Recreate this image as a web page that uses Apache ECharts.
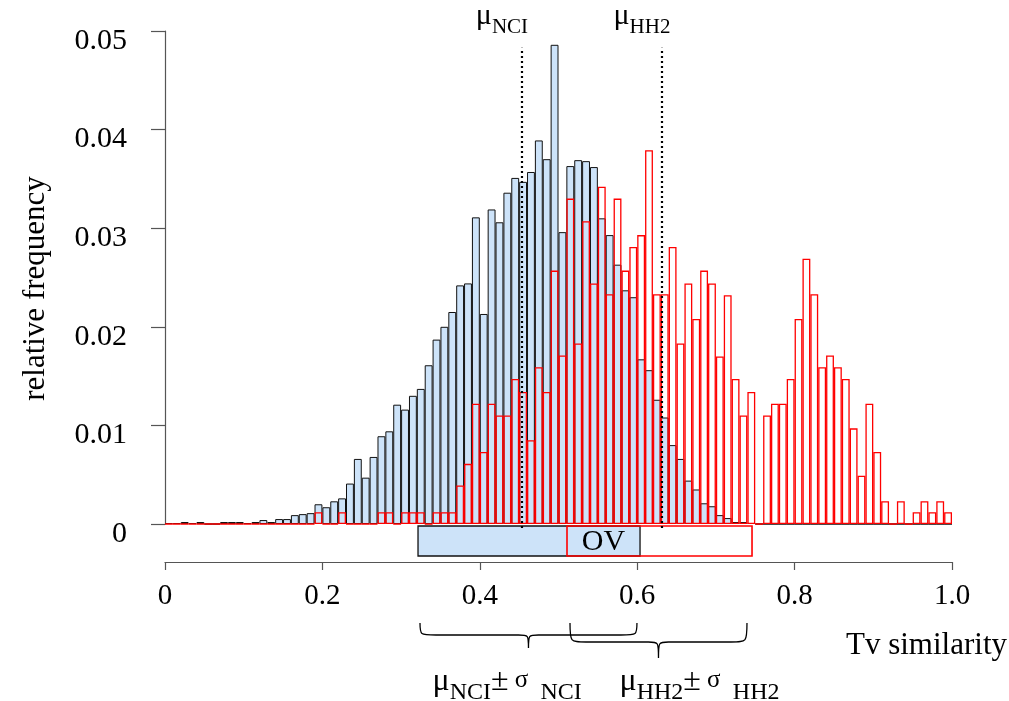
<!DOCTYPE html>
<html><head><meta charset="utf-8">
<script src="https://cdn.jsdelivr.net/npm/echarts@6/dist/echarts.min.js"></script>
<style>html,body{margin:0;padding:0;background:#fff}#c{width:1009px;height:701px}</style>
</head><body><div id="c"></div>
<script>
// ---- data (bin width 0.01, bins 0..99 over [0,1]) ----
const binLabels = Array.from({length: 100}, (_, i) => (i / 100).toFixed(2));
const nciValues = [
  0.0001,0.0001,0.0002,0.0001,0.0002,0,0,0.0002,0.0002,0.0002,
  0.0001,0.0002,0.0004,0.0002,0.0005,0.0005,0.0009,0.0010,0.0011,0.0020,
  0.0017,0.0023,0.0026,0.0041,0.0066,0.0047,0.0068,0.0089,0.0094,0.0121,
  0.0116,0.0130,0.0137,0.0161,0.0187,0.0200,0.0215,0.0242,0.0244,0.0311,
  0.0213,0.0319,0.0306,0.0336,0.0351,0.0347,0.0357,0.0389,0.0370,0.0486,
  0.0296,0.0363,0.0369,0.0368,0.0362,0.0310,0.0293,0.0263,0.0237,0.0230,
  0.0167,0.0156,0.0126,0.0108,0.0080,0.0066,0.0044,0.0035,0.0021,0.0018,
  0.0009,0.0006,0.0002,0.0002,0.0001,0,0,0,0,0,
  0,0,0,0,0,0,0,0,0,0,
  0,0,0,0,0,0,0,0,0,0
];
const hh2Values = [
  0,0,0,0,0,0,0,0,0,0,
  0,0,0,0,0,0,0,0,0,0.0012,
  0,0,0.0012,0,0,0,0,0.0012,0.0012,0,
  0.0012,0.0012,0.0012,0,0.0012,0.0012,0.0012,0.0039,0.0061,0.0122,
  0.0073,0.0122,0.0110,0.0110,0.0147,0.0134,0.0085,0.0159,0.0134,0.0257,
  0.0171,0.0330,0.0183,0.0307,0.0244,0.0342,0.0233,0.0330,0.0257,0.0281,
  0.0293,0.0379,0.0233,0.0233,0.0281,0.0183,0.0244,0.0208,0.0257,0.0244,
  0.0170,0.0232,0.0147,0.0110,0.0134,0,0.0110,0.0122,0.0122,0.0147,
  0.0208,0.0269,0.0233,0.0159,0.0171,0.0159,0.0147,0.0097,0.0049,0.0122,
  0.0073,0.0023,0,0.0023,0,0.0012,0.0023,0.0012,0.0023,0.0012
];
const meanNames = ['NCI', 'HH2'];
const meanValues = [0.4536, 0.6315];
const meanLineTop = 0.0483;
const nciBand = [0.3215, 0.6036];
const hh2Band = [0.5108, 0.7459];
const nciBrace = [0.324, 0.5997];
const hh2Brace = [0.5146, 0.7395];
const xTickLabels = ['0', '0.2', '0.4', '0.6', '0.8', '1.0'];
const yTickLabels = ['0', '0.01', '0.02', '0.03', '0.04', '0.05'];
const overlapLabel = 'OV';
const xAxisTitle = 'Tv similarity';
const yAxisTitle = 'relative frequency';

const FONT = "'Liberation Serif','DejaVu Serif',serif";
const BLUE = '#cde3f9';
const RED = '#ff0000';

const chart = echarts.init(document.getElementById('c'), null, {renderer: 'canvas'});

function richSet(big, sub, sig) {
  return {
    m: {fontFamily: FONT, fontSize: big, fill: '#000', color: '#000', verticalAlign: 'bottom'},
    s: {fontFamily: FONT, fontSize: sub, fill: '#000', color: '#000', verticalAlign: 'bottom', padding: [0, 0, -7, 0]},
    p: {fontFamily: FONT, fontSize: big, fill: '#000', color: '#000', verticalAlign: 'bottom'},
    g: {fontFamily: FONT, fontSize: sig, fill: '#000', color: '#000', verticalAlign: 'bottom', padding: [0, 0, 5, 0]}
  };
}

function bracePath(xa, xm, xb, y0, yh, yt) {
  const r = 16, rm = 10;
  return `M${xa},${y0} C${xa},${yh} ${xa},${yh} ${xa + r},${yh} L${xm - rm},${yh} ` +
         `C${xm},${yh} ${xm},${yh} ${xm},${yt} C${xm},${yh} ${xm},${yh} ${xm + rm},${yh} ` +
         `L${xb - r},${yh} C${xb},${yh} ${xb},${yh} ${xb},${y0}`;
}

const option = {
  backgroundColor: '#fff',
  animation: false,
  grid: {left: 165, right: 57, top: 31, bottom: 177, containLabel: false},
  xAxis: [
    {type: 'category', data: binLabels, show: false, boundaryGap: true},
    {
      type: 'value', min: 0, max: 1, interval: 0.2, position: 'bottom', offset: 38,
      axisLine: {show: true, lineStyle: {color: '#555', width: 1.2}},
      axisTick: {show: true, length: 8, inside: false, lineStyle: {color: '#555', width: 1.2}},
      axisLabel: {
        margin: 20, fontFamily: FONT, fontSize: 29, color: '#000',
        formatter: v => xTickLabels[Math.round(v / 0.2)]
      },
      splitLine: {show: false}
    }
  ],
  yAxis: {
    type: 'value', min: 0, max: 0.05, interval: 0.01, offset: 10,
    name: yAxisTitle, nameLocation: 'middle', nameGap: 104, nameRotate: 90,
    nameTextStyle: {fontFamily: FONT, fontSize: 31, color: '#000', padding: [0, 22, 0, 0]},
    axisLine: {show: true, lineStyle: {color: '#555', width: 1.2}},
    axisTick: {show: true, length: 14, lineStyle: {color: '#555', width: 1.2}},
    axisLabel: {
      margin: 28, fontFamily: FONT, fontSize: 30, color: '#000',
      verticalAlign: 'top', lineHeight: 20,
      formatter: v => yTickLabels[Math.round(v / 0.01)]
    },
    splitLine: {show: false}
  },
  graphic: [
    {type: 'text', right: 2, top: 630,
     style: {text: xAxisTitle, fontFamily: FONT, fontSize: 31, fill: '#000'}}
  ],
  series: [
    {
      type: 'bar', name: 'NCI', xAxisIndex: 0, yAxisIndex: 0, data: nciValues,
      barWidth: '100%', barGap: '-100%', barCategoryGap: 0,
      itemStyle: {color: BLUE, borderColor: '#111', borderWidth: 1}
    },
    {
      type: 'bar', name: 'HH2', xAxisIndex: 0, yAxisIndex: 0, data: hh2Values,
      barWidth: '100%', barGap: '-100%', barCategoryGap: 0,
      itemStyle: {color: 'rgba(0,0,0,0)', borderColor: RED, borderWidth: 1.3}
    },
    {
      // dotted mean lines with mu labels
      type: 'custom', xAxisIndex: 1, yAxisIndex: 0, clip: false, silent: true, z: 6,
      data: meanValues.map((m, i) => [m, i]),
      renderItem: (params, api) => {
        const m = api.value(0), k = api.value(1);
        const b = api.coord([m, 0]);
        const t = api.coord([m, meanLineTop]);
        return {type: 'group', children: [
          {type: 'line', shape: {x1: b[0], y1: b[1] + 4, x2: t[0], y2: t[1]},
           style: {stroke: '#000', lineWidth: 2.2, lineDash: [2, 3]}},
          {type: 'text', z2: 10, style: {
            text: '{m|μ}{s|' + meanNames[k] + '}', rich: richSet(30, 21, 24),
            x: t[0] - 20, y: t[1] - 17, align: 'center', verticalAlign: 'bottom'}}
        ]};
      }
    },
    {
      type: 'custom', xAxisIndex: 1, yAxisIndex: 0, clip: false, silent: true, z: 5,
      data: [[nciBand[0], nciBand[1], 0], [hh2Band[0], hh2Band[1], 1], [hh2Band[0], nciBand[1], 2]],
      renderItem: (params, api) => {
        const a = api.coord([api.value(0), 0]);
        const b = api.coord([api.value(1), 0]);
        const k = api.value(2);
        const top = a[1] + 2, h = 30;
        if (k === 2) {
          return {type: 'text', z2: 20, style: {
            text: overlapLabel, x: (a[0] + b[0]) / 2, y: top + h / 2 + 1,
            align: 'center', verticalAlign: 'middle',
            fontFamily: FONT, fontSize: 30, fill: '#000'}};
        }
        return {
          type: 'rect', shape: {x: a[0], y: top, width: b[0] - a[0], height: h},
          style: k === 0 ? {fill: BLUE, stroke: '#111', lineWidth: 1.3}
                         : {fill: 'none', stroke: RED, lineWidth: 1.6},
          z2: k === 0 ? 1 : 2
        };
      }
    },
    {
      type: 'custom', xAxisIndex: 1, yAxisIndex: 0, clip: false, silent: true, z: 5,
      data: [[nciBrace[0], nciBrace[1], 0], [hh2Brace[0], hh2Brace[1], 1]],
      renderItem: (params, api) => {
        const a = api.coord([api.value(0), 0]);
        const b = api.coord([api.value(1), 0]);
        const k = api.value(2);
        const xm = (a[0] + b[0]) / 2;
        const base = a[1];
        const y0 = base + 99, yh = base + (k === 0 ? 111 : 118), yt = base + (k === 0 ? 124 : 134);
        const nm = meanNames[k];
        return {type: 'group', children: [
          {type: 'path', shape: {pathData: bracePath(a[0], xm, b[0], y0, yh, yt)},
           style: {fill: 'none', stroke: '#000', lineWidth: 1.3}},
          {type: 'text', z2: 10, style: {
            text: '{m|μ}{s|' + nm + '}{p|±}{g| σ }{s| ' + nm + '}',
            rich: richSet(32, 24, 25), x: xm + (k === 0 ? -96 : -39), y: base + 174,
            align: 'left', verticalAlign: 'bottom'}}
        ]};
      }
    }
  ]
};
chart.setOption(option);
</script></body></html>
